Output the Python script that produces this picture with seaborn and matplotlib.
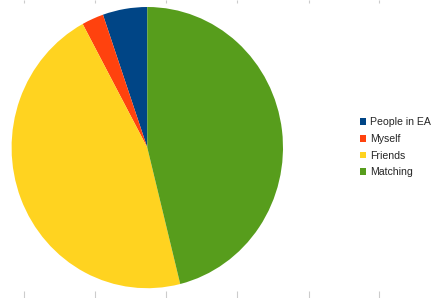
import matplotlib
matplotlib.use("Agg")
import matplotlib.pyplot as plt
import seaborn as sns

sns.set_theme(style="white")
plt.rcParams['font.family'] = ['Liberation Sans', 'DejaVu Sans']

categories = ["People in EA", "Myself", "Friends", "Matching"]
values = [5.3, 2.6, 46.0, 46.1]
colors = ["#004586", "#ff420e", "#ffd320", "#579d1c"]
tick_positions = [24, 95, 166, 237, 309, 379]

W, H = 438, 298
fig = plt.figure(figsize=(W / 100, H / 100), dpi=100)
fig.patch.set_facecolor("white")

# background axes for the faint tick marks along the bottom edge
bg = fig.add_axes([0, 0, 1, 1])
bg.set_xlim(0, W)
bg.set_ylim(0, H)
for s in bg.spines.values():
    s.set_visible(False)
bg.set_xticks(tick_positions)
bg.set_yticks([])
bg.tick_params(axis="x", direction="in", top=False, bottom=True,
               labelbottom=False, color="#cccccc", width=0.8, length=5)
bg.patch.set_alpha(0)
# shorter marks along the top edge
top = bg.secondary_xaxis("top")
top.set_xticks(tick_positions)
top.tick_params(axis="x", direction="in", labeltop=False, color="#cccccc",
                width=0.8, length=2.5)
top.spines["top"].set_visible(False)

cx, cy, rx, ry = 147.3, 147.6, 135.7, 140.6
ax = fig.add_axes([(cx - rx) / W, (H - cy - ry) / H, 2 * rx / W, 2 * ry / H])
wedges, _ = ax.pie(values, colors=colors, startangle=90, counterclock=True,
                   wedgeprops=dict(linewidth=0))
ax.set_aspect("auto")
ax.set_xlim(-1, 1)
ax.set_ylim(-1, 1)
ax.axis("off")

fig.legend(wedges, categories, loc="center left",
           bbox_to_anchor=(360 / W, (H - 147.3) / H), frameon=False,
           fontsize=7.6, handlelength=0.6, handleheight=0.6,
           handletextpad=0.32, labelspacing=0.62, borderpad=0,
           borderaxespad=0)

fig.savefig("out.png", dpi=100, facecolor="white")
